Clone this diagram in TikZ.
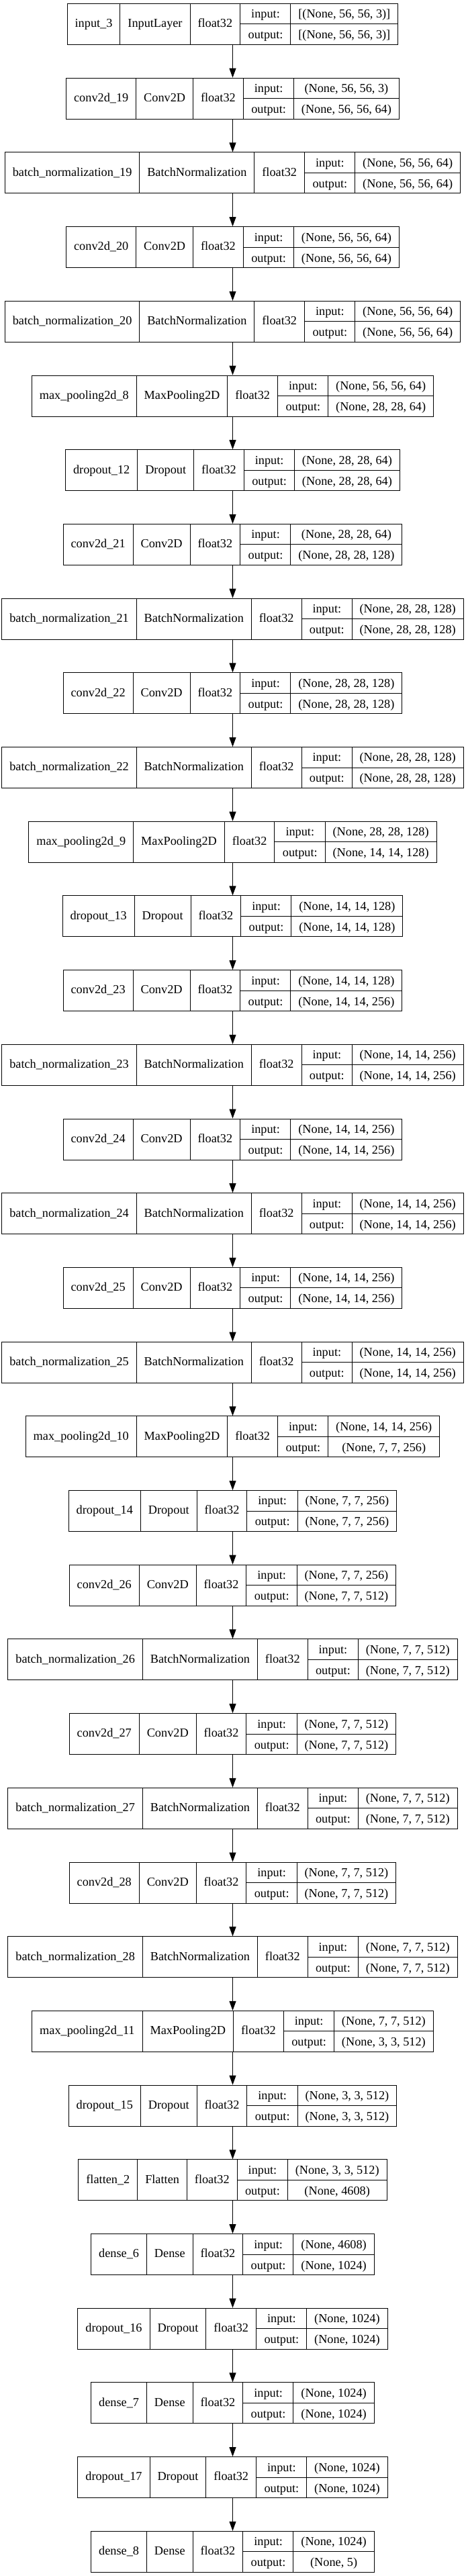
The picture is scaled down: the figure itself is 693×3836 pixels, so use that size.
\documentclass[tikz,border=0pt]{standalone}
\usepackage{fontspec}
\setmainfont{Liberation Serif}
\usetikzlibrary{arrows.meta}

\setlength{\tabcolsep}{8.6pt}
\setlength{\arrayrulewidth}{0.75pt}
\newcommand\rowstrut{\rule[-6.4pt]{0pt}{22.5pt}}
\newcommand\kerasrec[4]{%
  \begin{tabular}{c|c|c|@{}c@{}}
    #1 & #2 & float32 &
    \begin{tabular}{c|c}
      \rowstrut input: & {#3} \\ \hline
      \rowstrut output: & {#4}
    \end{tabular}
  \end{tabular}}

\tikzset{
  layer/.style={draw, line width=0.75pt, inner sep=0pt, anchor=north,
    font=\fontsize{13.7}{16}\selectfont},
  flow/.style={-{Triangle[length=10.5pt,width=7.5pt]}, line width=0.75pt}
}

\begin{document}
\begin{tikzpicture}[x=0.75pt, y=-0.75pt]
    \useasboundingbox (0,0) rectangle (693,3836);

    % Block 1
    \node[layer] (l0) at (346.5,5) {\kerasrec{input\_3}{InputLayer}{[(None, 56, 56, 3)]}{[(None, 56, 56, 3)]}};
    \node[layer] (l1) at (346.5,115.7) {\kerasrec{conv2d\_19}{Conv2D}{(None, 56, 56, 3)}{(None, 56, 56, 64)}};
    \node[layer] (l2) at (346.5,226.4) {\kerasrec{batch\_normalization\_19}{BatchNormalization}{(None, 56, 56, 64)}{(None, 56, 56, 64)}};
    \node[layer] (l3) at (346.5,337.1) {\kerasrec{conv2d\_20}{Conv2D}{(None, 56, 56, 64)}{(None, 56, 56, 64)}};
    \node[layer] (l4) at (346.5,447.8) {\kerasrec{batch\_normalization\_20}{BatchNormalization}{(None, 56, 56, 64)}{(None, 56, 56, 64)}};
    \node[layer] (l5) at (346.5,558.5) {\kerasrec{max\_pooling2d\_8}{MaxPooling2D}{(None, 56, 56, 64)}{(None, 28, 28, 64)}};
    \node[layer] (l6) at (346.5,669.2) {\kerasrec{dropout\_12}{Dropout}{(None, 28, 28, 64)}{(None, 28, 28, 64)}};

    % Block 2
    \node[layer] (l7) at (346.5,779.9) {\kerasrec{conv2d\_21}{Conv2D}{(None, 28, 28, 64)}{(None, 28, 28, 128)}};
    \node[layer] (l8) at (346.5,890.6) {\kerasrec{batch\_normalization\_21}{BatchNormalization}{(None, 28, 28, 128)}{(None, 28, 28, 128)}};
    \node[layer] (l9) at (346.5,1001.3) {\kerasrec{conv2d\_22}{Conv2D}{(None, 28, 28, 128)}{(None, 28, 28, 128)}};
    \node[layer] (l10) at (346.5,1112) {\kerasrec{batch\_normalization\_22}{BatchNormalization}{(None, 28, 28, 128)}{(None, 28, 28, 128)}};
    \node[layer] (l11) at (346.5,1222.7) {\kerasrec{max\_pooling2d\_9}{MaxPooling2D}{(None, 28, 28, 128)}{(None, 14, 14, 128)}};
    \node[layer] (l12) at (346.5,1333.4) {\kerasrec{dropout\_13}{Dropout}{(None, 14, 14, 128)}{(None, 14, 14, 128)}};

    % Block 3
    \node[layer] (l13) at (346.5,1444.1) {\kerasrec{conv2d\_23}{Conv2D}{(None, 14, 14, 128)}{(None, 14, 14, 256)}};
    \node[layer] (l14) at (346.5,1554.8) {\kerasrec{batch\_normalization\_23}{BatchNormalization}{(None, 14, 14, 256)}{(None, 14, 14, 256)}};
    \node[layer] (l15) at (346.5,1665.5) {\kerasrec{conv2d\_24}{Conv2D}{(None, 14, 14, 256)}{(None, 14, 14, 256)}};
    \node[layer] (l16) at (346.5,1776.2) {\kerasrec{batch\_normalization\_24}{BatchNormalization}{(None, 14, 14, 256)}{(None, 14, 14, 256)}};
    \node[layer] (l17) at (346.5,1886.9) {\kerasrec{conv2d\_25}{Conv2D}{(None, 14, 14, 256)}{(None, 14, 14, 256)}};
    \node[layer] (l18) at (346.5,1997.6) {\kerasrec{batch\_normalization\_25}{BatchNormalization}{(None, 14, 14, 256)}{(None, 14, 14, 256)}};
    \node[layer] (l19) at (346.5,2108.3) {\kerasrec{max\_pooling2d\_10}{MaxPooling2D}{(None, 14, 14, 256)}{(None, 7, 7, 256)}};
    \node[layer] (l20) at (346.5,2219) {\kerasrec{dropout\_14}{Dropout}{(None, 7, 7, 256)}{(None, 7, 7, 256)}};

    % Block 4
    \node[layer] (l21) at (346.5,2329.7) {\kerasrec{conv2d\_26}{Conv2D}{(None, 7, 7, 256)}{(None, 7, 7, 512)}};
    \node[layer] (l22) at (346.5,2440.4) {\kerasrec{batch\_normalization\_26}{BatchNormalization}{(None, 7, 7, 512)}{(None, 7, 7, 512)}};
    \node[layer] (l23) at (346.5,2551.1) {\kerasrec{conv2d\_27}{Conv2D}{(None, 7, 7, 512)}{(None, 7, 7, 512)}};
    \node[layer] (l24) at (346.5,2661.8) {\kerasrec{batch\_normalization\_27}{BatchNormalization}{(None, 7, 7, 512)}{(None, 7, 7, 512)}};
    \node[layer] (l25) at (346.5,2772.5) {\kerasrec{conv2d\_28}{Conv2D}{(None, 7, 7, 512)}{(None, 7, 7, 512)}};
    \node[layer] (l26) at (346.5,2883.2) {\kerasrec{batch\_normalization\_28}{BatchNormalization}{(None, 7, 7, 512)}{(None, 7, 7, 512)}};
    \node[layer] (l27) at (346.5,2993.9) {\kerasrec{max\_pooling2d\_11}{MaxPooling2D}{(None, 7, 7, 512)}{(None, 3, 3, 512)}};
    \node[layer] (l28) at (346.5,3104.6) {\kerasrec{dropout\_15}{Dropout}{(None, 3, 3, 512)}{(None, 3, 3, 512)}};

    % Head
    \node[layer] (l29) at (346.5,3215.3) {\kerasrec{flatten\_2}{Flatten}{(None, 3, 3, 512)}{(None, 4608)}};
    \node[layer] (l30) at (346.5,3326) {\kerasrec{dense\_6}{Dense}{(None, 4608)}{(None, 1024)}};
    \node[layer] (l31) at (346.5,3436.7) {\kerasrec{dropout\_16}{Dropout}{(None, 1024)}{(None, 1024)}};
    \node[layer] (l32) at (346.5,3547.4) {\kerasrec{dense\_7}{Dense}{(None, 1024)}{(None, 1024)}};
    \node[layer] (l33) at (346.5,3658.1) {\kerasrec{dropout\_17}{Dropout}{(None, 1024)}{(None, 1024)}};
    \node[layer] (l34) at (346.5,3768.8) {\kerasrec{dense\_8}{Dense}{(None, 1024)}{(None, 5)}};

    % Edges
    \foreach \i [count=\j from 1] in {0,...,33}
        \draw[flow] (l\i) -- (l\j);

\end{tikzpicture}
\end{document}
